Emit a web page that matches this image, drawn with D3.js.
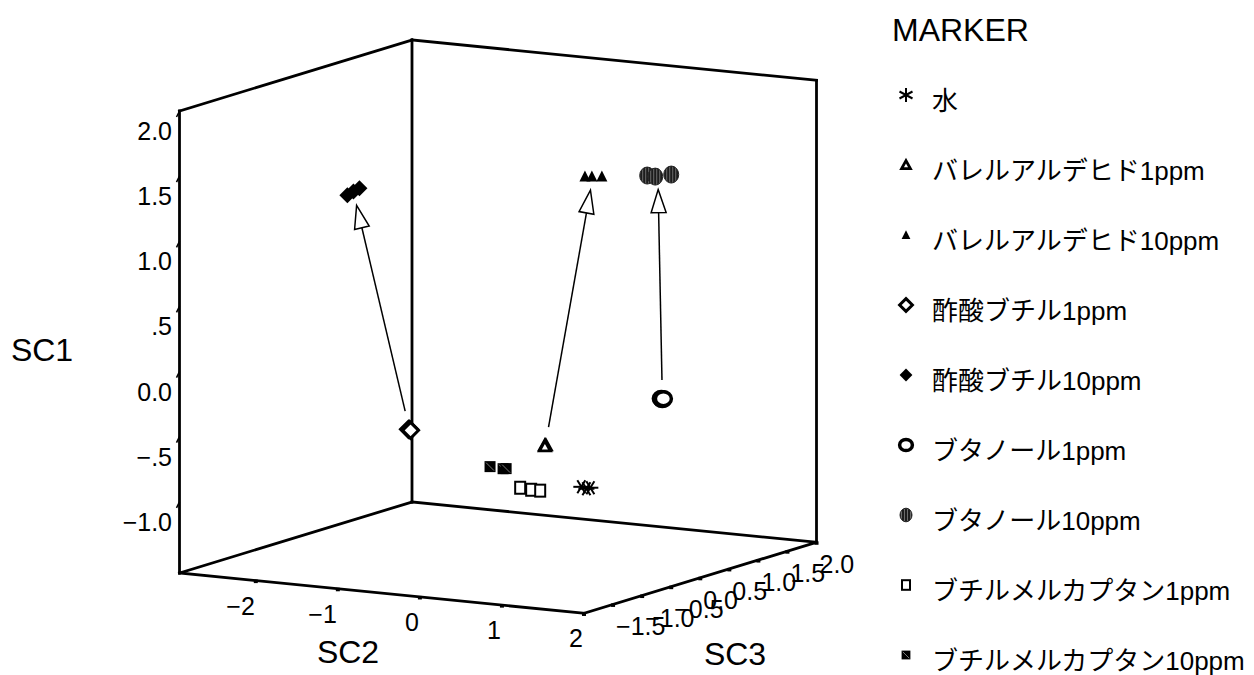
<!DOCTYPE html>
<html>
<head>
<meta charset="utf-8">
<script src="https://cdn.jsdelivr.net/npm/d3@7"></script>
<style>
  body { margin: 0; background: #fff; }
  text { font-family: "Liberation Sans", Arial, "Noto Sans CJK JP", sans-serif; fill: #000; }
</style>
</head>
<body>
<div id="chart"></div>
<script>
// groups, in legend order
const groupNames = ["水", "バレルアルデヒド1ppm", "バレルアルデヒド10ppm", "酢酸ブチル1ppm", "酢酸ブチル10ppm",
  "ブタノール1ppm", "ブタノール10ppm", "ブチルメルカプタン1ppm", "ブチルメルカプタン10ppm"];
const groupMarkers = ["asterisk", "triangleOpen", "triangle", "diamondOpen", "diamond",
  "circleOpen", "circleHatch", "squareOpen", "square"];

// discriminant scores, 3 replicates per group
const sc1Values = [
  [-0.758, -0.769, -0.758],
  [-0.703, -0.702, -0.711],
  [1.374, 1.379, 1.387],
  [-0.738, -0.737, -0.744],
  [0.993, 1.028, 1.056],
  [-0.110, -0.117, -0.109],
  [1.537, 1.535, 1.563],
  [-0.848, -0.855, -0.855],
  [-0.745, -0.751, -0.748]
];
const sc2Values = [
  [1.259, 1.321, 1.369],
  [-0.106, -0.094, -0.106],
  [0.311, 0.396, 0.518],
  [-1.981, -1.968, -1.956],
  [-2.797, -2.723, -2.650],
  [1.880, 1.892, 1.905],
  [1.495, 1.593, 1.788],
  [0.372, 0.506, 0.616],
  [-0.137, 0.022, 0.059]
];
const sc3Values = [
  [-1.0, -1.0, -1.0],
  [0.3, 0.3, 0.3],
  [0.4, 0.4, 0.4],
  [0.6, 0.6, 0.6],
  [0.7, 0.7, 0.7],
  [-0.5, -0.5, -0.5],
  [-0.2, -0.2, -0.2],
  [-0.8, -0.8, -0.8],
  [-0.6, -0.6, -0.6]
];

// arrows: 1ppm group -> 10ppm group
const arrowPairs = [[3, 4], [1, 2], [5, 6]];

// axes
const sc1Domain = [-1.546, 2.0];
const sc2Domain = [-2.93, 2.0];
const sc3Domain = [-2.0, 2.0];
const sc1Ticks = [-1.0, -0.5, 0.0, 0.5, 1.0, 1.5, 2.0];
const sc1TickLabels = ["−1.0", "−.5", "0.0", ".5", "1.0", "1.5", "2.0"];
const sc2Ticks = [-2, -1, 0, 1, 2];
const sc2TickLabels = ["−2", "−1", "0", "1", "2"];
const sc3Ticks = [-2.0, -1.5, -1.0, -0.5, 0.0, 0.5, 1.0, 1.5, 2.0];
const sc3TickLabels = ["", "−1.5", "−1.0", "−0.5", "0.0", "0.5", "1.0", "1.5", "2.0"];

const width = 1254, height = 675;

const svg = d3.select("#chart").append("svg")
  .attr("width", width)
  .attr("height", height)
  .style("background", "#fff");

// hatch for butanol 10ppm
const defs = svg.append("defs");
const pat = defs.append("pattern")
  .attr("id", "hatch")
  .attr("patternUnits", "userSpaceOnUse")
  .attr("width", 3).attr("height", 4);
pat.append("rect").attr("width", 3).attr("height", 4).attr("fill", "#1c1c1c");
pat.append("line").attr("x1", 1.5).attr("y1", 0).attr("x2", 1.5).attr("y2", 4)
  .attr("stroke", "#808080").attr("stroke-width", 0.8);

// oblique projection of the box
const origin = [179.5, 573];
const axis1 = [0, -462];
const axis2 = [404.5, 40.3];
const axis3 = [232.5, -71];

const s1 = d3.scaleLinear().domain(sc1Domain).range([0, 1]);
const s2 = d3.scaleLinear().domain(sc2Domain).range([0, 1]);
const s3 = d3.scaleLinear().domain(sc3Domain).range([0, 1]);

function project(v1, v2, v3) {
  const f1 = s1(v1), f2 = s2(v2), f3 = s3(v3);
  return [
    origin[0] + f1 * axis1[0] + f2 * axis2[0] + f3 * axis3[0],
    origin[1] + f1 * axis1[1] + f2 * axis2[1] + f3 * axis3[1]
  ];
}

const [b0, b1] = sc1Domain, [a0, a1] = sc2Domain, [c0, c1] = sc3Domain;
const edges = [
  [[b0, a0, c0], [b1, a0, c0]],
  [[b1, a0, c0], [b1, a0, c1]],
  [[b0, a0, c1], [b1, a0, c1]],
  [[b1, a0, c1], [b1, a1, c1]],
  [[b0, a1, c1], [b1, a1, c1]],
  [[b0, a0, c0], [b0, a1, c0]],
  [[b0, a1, c0], [b0, a1, c1]],
  [[b0, a0, c0], [b0, a0, c1]],
  [[b0, a0, c1], [b0, a1, c1]]
];

const boxG = svg.append("g");
boxG.selectAll("line")
  .data(edges)
  .join("line")
  .attr("x1", d => project(...d[0])[0])
  .attr("y1", d => project(...d[0])[1])
  .attr("x2", d => project(...d[1])[0])
  .attr("y2", d => project(...d[1])[1])
  .attr("stroke", "#000")
  .attr("stroke-width", 2.8)
  .attr("stroke-linecap", "square");

// SC1 ticks + labels (left vertical edge)
const tickG = svg.append("g");
sc1Ticks.forEach((t, i) => {
  const p = project(t, a0, c0);
  tickG.append("line")
    .attr("x1", p[0]).attr("y1", p[1])
    .attr("x2", p[0] - 3).attr("y2", p[1] + 6)
    .attr("stroke", "#000").attr("stroke-width", 1.6);
  tickG.append("text")
    .attr("x", 172).attr("y", p[1] + 29)
    .attr("text-anchor", "end")
    .attr("font-size", 25)
    .text(sc1TickLabels[i]);
});

// SC2 ticks + labels (front-left floor edge)
sc2Ticks.forEach((t, i) => {
  const p = project(b0, t, c0);
  tickG.append("rect")
    .attr("x", p[0] - 2).attr("y", p[1] - 1)
    .attr("width", 4).attr("height", 3.5)
    .attr("fill", "#000");
  tickG.append("text")
    .attr("x", p[0] - 1).attr("y", p[1] + 34)
    .attr("text-anchor", "end")
    .attr("font-size", 25)
    .text(sc2TickLabels[i]);
});

// SC3 ticks + labels (front-right floor edge)
sc3Ticks.forEach((t, i) => {
  const p = project(b0, a1, t);
  tickG.append("rect")
    .attr("x", p[0] - 2).attr("y", p[1] - 1)
    .attr("width", 4).attr("height", 3.5)
    .attr("fill", "#000");
  tickG.append("text")
    .attr("x", p[0] + 3).attr("y", p[1] + 31)
    .attr("font-size", 25)
    .text(sc3TickLabels[i]);
});

// axis titles
svg.append("text").attr("x", 42).attr("y", 361).attr("text-anchor", "middle")
  .attr("font-size", 32).text("SC1");
svg.append("text").attr("x", 348).attr("y", 663).attr("text-anchor", "middle")
  .attr("font-size", 32).text("SC2");
svg.append("text").attr("x", 735).attr("y", 665).attr("text-anchor", "middle")
  .attr("font-size", 32).text("SC3");

// marker drawing
function drawMarker(g, type, k, legend) {
  // k = scale factor
  if (type === "asterisk") {
    const segs = legend
      ? [[0, -7, 0, 7], [-6.5, -3.5, 6.5, 3.5], [6.5, -3.5, -6.5, 3.5]]
      : [[-8, 0, 8, 0], [-4, -6.5, 4, 6.5], [4, -6.5, -4, 6.5]];
    segs.forEach(s => g.append("line")
      .attr("x1", s[0] * k).attr("y1", s[1] * k).attr("x2", s[2] * k).attr("y2", s[3] * k)
      .attr("stroke", "#000").attr("stroke-width", 2));
  } else if (type === "triangleOpen") {
    g.append("path").attr("d", `M0,${-5.5 * k}L${5.5 * k},${4.5 * k}L${-5.5 * k},${4.5 * k}Z`)
      .attr("fill", "#fff").attr("stroke", "#000").attr("stroke-width", 2.8).attr("stroke-linejoin", "miter");
  } else if (type === "triangle") {
    g.append("path").attr("d", `M0,${-6 * k}L${5.5 * k},${5 * k}L${-5.5 * k},${5 * k}Z`)
      .attr("fill", "#000");
  } else if (type === "diamondOpen") {
    g.append("path").attr("d", `M0,${-8 * k}L${8 * k},0L0,${8 * k}L${-8 * k},0Z`)
      .attr("fill", "#fff").attr("stroke", "#000").attr("stroke-width", 3);
  } else if (type === "diamond") {
    g.append("path").attr("d", `M0,${-8 * k}L${8 * k},0L0,${8 * k}L${-8 * k},0Z`)
      .attr("fill", "#000");
  } else if (type === "circleOpen") {
    g.append("ellipse").attr("rx", 8 * k).attr("ry", 7 * k)
      .attr("fill", "#fff").attr("stroke", "#000").attr("stroke-width", 3.5);
  } else if (type === "circleHatch") {
    g.append("ellipse").attr("rx", 7.5 * k).attr("ry", 8.5 * k)
      .attr("fill", "url(#hatch)").attr("stroke", "#222").attr("stroke-width", 1);
  } else if (type === "squareOpen") {
    g.append("rect").attr("x", -5 * k).attr("y", -6 * k).attr("width", 10 * k).attr("height", 12 * k)
      .attr("fill", "#fff").attr("stroke", "#000").attr("stroke-width", 2);
  } else if (type === "square") {
    g.append("rect").attr("x", -5.5 * k).attr("y", -5.5 * k).attr("width", 11 * k).attr("height", 11 * k)
      .attr("fill", "#000");
    g.append("line").attr("x1", -4 * k).attr("y1", -4 * k).attr("x2", 4 * k).attr("y2", 4 * k)
      .attr("stroke", "#999").attr("stroke-width", 0.8);
  }
}

// points
const points = [];
groupNames.forEach((name, gi) => {
  sc1Values[gi].forEach((v, j) => {
    points.push({ group: gi, sc1: v, sc2: sc2Values[gi][j], sc3: sc3Values[gi][j] });
  });
});

const ptG = svg.append("g");
ptG.selectAll("g")
  .data(points)
  .join("g")
  .attr("transform", d => {
    const p = project(d.sc1, d.sc2, d.sc3);
    return `translate(${p[0]},${p[1]})`;
  })
  .each(function (d) { drawMarker(d3.select(this), groupMarkers[d.group], 1, false); });

// arrows between group means
const arrowG = svg.append("g");
arrowPairs.forEach(([from, to]) => {
  const p0 = project(d3.mean(sc1Values[from]), d3.mean(sc2Values[from]), d3.mean(sc3Values[from]));
  const p1 = project(d3.mean(sc1Values[to]), d3.mean(sc2Values[to]), d3.mean(sc3Values[to]));
  const dx = p1[0] - p0[0], dy = p1[1] - p0[1];
  const len = Math.hypot(dx, dy);
  const ux = dx / len, uy = dy / len;
  const start = [p0[0] + ux * 19, p0[1] + uy * 19];
  const tip = [p1[0] - ux * 14, p1[1] - uy * 14];
  const headLen = 23, headW = 7.5;
  const base = [tip[0] - ux * headLen, tip[1] - uy * headLen];
  arrowG.append("line")
    .attr("x1", start[0]).attr("y1", start[1])
    .attr("x2", base[0]).attr("y2", base[1])
    .attr("stroke", "#000").attr("stroke-width", 1.5);
  arrowG.append("path")
    .attr("d", `M${tip[0]},${tip[1]}L${base[0] - uy * headW},${base[1] + ux * headW}L${base[0] + uy * headW},${base[1] - ux * headW}Z`)
    .attr("fill", "#fff").attr("stroke", "#000").attr("stroke-width", 1.5);
});

// legend
const legendG = svg.append("g");
legendG.append("text").attr("x", 892).attr("y", 41).attr("font-size", 32).text("MARKER");
groupNames.forEach((name, i) => {
  const cy = 101 + i * 70;
  const mg = legendG.append("g").attr("transform", `translate(906,${cy - 6})`);
  drawMarker(mg, groupMarkers[i], groupMarkers[i] === "asterisk" ? 1 : 0.8, true);
  legendG.append("text")
    .attr("x", 932).attr("y", cy + 9)
    .attr("font-size", 26)
    .text(name);
});
</script>
</body>
</html>
